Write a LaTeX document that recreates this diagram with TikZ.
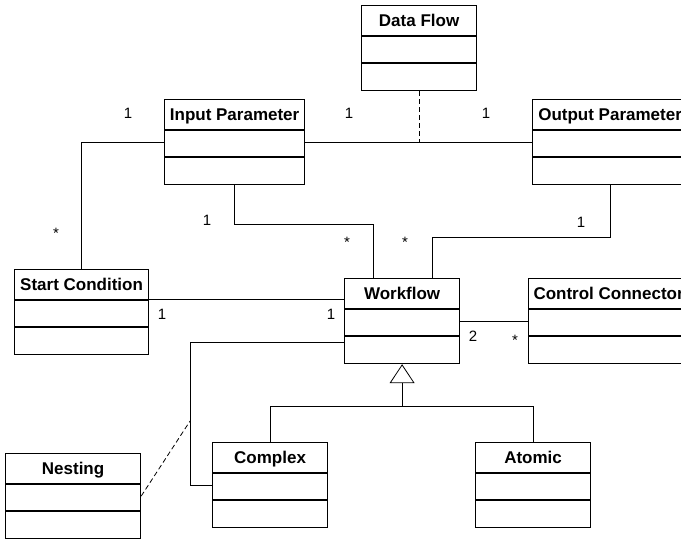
\documentclass[tikz,border=0pt]{standalone}
\usepackage{fontspec}
\setmainfont{Liberation Sans}
\usetikzlibrary{arrows.meta}

\tikzset{
  cls/.style={draw, line width=1.2pt, minimum width=#1, minimum height=85pt, inner sep=0pt, anchor=north west},
  ttl/.style={font=\fontsize{17}{20}\selectfont\bfseries, inner sep=0pt, text height=12pt, text depth=3.5pt},
  mult/.style={font=\fontsize{15}{18}\selectfont, inner sep=0pt, anchor=base},
  conn/.style={line width=0.8pt},
  dep/.style={conn, dash pattern=on 5pt off 3pt},
}

\begin{document}
\begin{tikzpicture}[x=1pt, y=-1pt]
\clip (0,0) rectangle (681,539);

% Klassen
\node[cls=115pt] (df) at (361,5) {};
\node[cls=140pt] (ip) at (164,99) {};
\node[cls=155pt] (op) at (532,99) {};
\node[cls=134pt] (sc) at (14,269) {};
\node[cls=115pt] (wf) at (344,278) {};
\node[cls=160pt] (cc) at (528,278) {};
\node[cls=115pt] (cx) at (212,442) {};
\node[cls=115pt] (atom) at (475,442) {};
\node[cls=135pt] (ns) at (5,453) {};

\foreach \c/\t in {df/Data Flow, ip/Input Parameter, op/Output Parameter,
                   sc/Start Condition, wf/Workflow, cc/Control Connector,
                   cx/Complex, atom/Atomic, ns/Nesting} {
	\node[ttl] (\c-t) at ([yshift=-17.5pt]\c.north) {\t};
	\draw[line width=1.2pt] ([yshift=-31pt]\c.north west) -- ([yshift=-31pt]\c.north east);
	\draw[line width=1.2pt] ([yshift=-58pt]\c.north west) -- ([yshift=-58pt]\c.north east);
}

% Assoziationen
\coordinate (ip-r) at ([yshift=-43pt]ip.north east);
\coordinate (ip-l) at ([yshift=-43pt]ip.north west);
\coordinate (sc-r) at ([yshift=-30pt]sc.north east);
\coordinate (ns-v) at ([xshift=-22pt]cx.west);

\draw[conn] (ip-r) -- (ip-r -| op.west);
\draw[dep] (df.south) -- (df.south |- ip-r);
\draw[conn] (ip-l) -| (sc.north);
\draw[conn] (ip.south) -- ++(0,39) -| ([xshift=29pt]wf.north west);
\draw[conn] (op.south) -- ++(0,52) -| ([xshift=-28pt]wf.north east);
\draw[conn] (sc-r) -- (sc-r -| wf.west);
\draw[conn] (wf.east) -- (wf.east -| cc.west);
\draw[conn] ([yshift=-64pt]wf.north west) -| (ns-v) -- (cx.west);
\draw[dep] (ns.east) -- ([yshift=64pt]ns-v);

% Generalisierung
\coordinate (gen) at ([yshift=-42pt]wf.south);
\draw[conn, -{Triangle[open, length=19pt, width=25pt]}] (gen) -- (wf.south);
\draw[conn] (cx.north) |- (gen) -| (atom.north);

% Multiplizitaeten
\node[mult] (m-ip-l) at (128,118.5) {1};
\node[mult] (m-ip-r) at (349,118.5) {1};
\node[mult] (m-op-l) at (486,118.5) {1};
\node[mult] (m-sc-t) at (56,238) {*};
\node[mult] (m-ip-b) at (207,225.5) {1};
\node[mult] (m-wf-a) at (347,247) {*};
\node[mult] (m-wf-b) at (405,247) {*};
\node[mult] (m-op-b) at (581,227.5) {1};
\node[mult] (m-sc-r) at (162,319.5) {1};
\node[mult] (m-wf-l) at (331,319.5) {1};
\node[mult] (m-wf-r) at (473,341.5) {2};
\node[mult] (m-cc-l) at (515,345) {*};
\end{tikzpicture}
\end{document}
